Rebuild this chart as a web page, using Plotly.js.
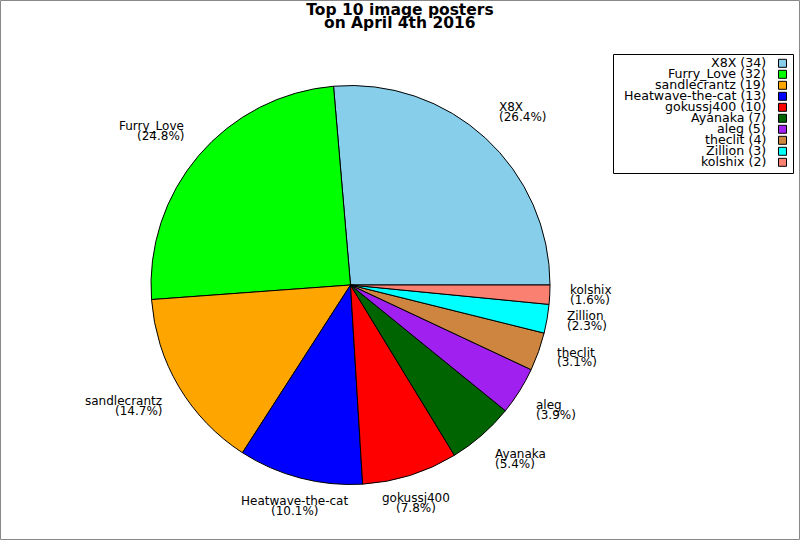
<!DOCTYPE html>
<html>
<head>
<meta charset="utf-8">
<script src="https://cdn.plot.ly/plotly-3.0.1.min.js"></script>
<style>html,body{margin:0;padding:0;background:#fff;}#chart{width:800px;height:540px;}</style>
</head>
<body>
<div id="chart"></div>
<script>
// ---- data ----
var names = ["X8X", "Furry_Love", "sandlecrantz", "Heatwave-the-cat", "gokussj400", "Ayanaka", "aleg", "theclit", "Zillion", "kolshix"];
var counts = [34, 32, 19, 13, 10, 7, 5, 4, 3, 2];
var sliceColors = ["#87CEEB", "#00FF00", "#FFA500", "#0000FF", "#FF0000", "#006400", "#A020F0", "#CD853F", "#00FFFF", "#FA8072"];
var titleLines = ["Top 10 image posters", "on April 4th 2016"];

// ---- layout geometry (pixels) ----
var W = 800, H = 540;
var CX = 350.5, CY = 285, R = 199.5;
var FONT = "DejaVu Sans";
function px(x) { return x / W; }
function py(y) { return 1 - y / H; }

var total = counts.reduce(function (a, b) { return a + b; }, 0);

var annotations = [];
var shapes = [];

// slice labels, two lines each, from data
var cum = 0;
for (var i = 0; i < names.length; i++) {
  var frac = counts[i] / total;
  var mid = (cum + frac / 2) * 2 * Math.PI;
  cum += frac;
  var c = Math.cos(mid), s = Math.sin(mid);
  var Px = CX + 1.1 * R * c, Py = CY - 1.1 * R * s;
  var nb, pb;
  if (s > 0.45) { nb = Py - 12; pb = Py - 2.5; }
  else if (s < -0.45) { nb = Py + 8; pb = Py + 17.7; }
  else { nb = Py - 1.7; pb = Py + 8; }
  var xa = c > 0.5 ? "left" : (c < -0.5 ? "right" : "center");
  var pct = "(" + (frac * 100).toFixed(1) + "%)";
  [[names[i], nb], [pct, pb]].forEach(function (ln) {
    annotations.push({
      text: ln[0], xref: "paper", yref: "paper", x: px(Px), y: py(ln[1] - 4.15),
      xanchor: xa, yanchor: "middle", showarrow: false, borderpad: 0, borderwidth: 0,
      font: { family: FONT, size: 12, color: "#000" }
    });
  });
}

// second title line
annotations.push({
  text: "<b>" + titleLines[1] + "</b>", xref: "paper", yref: "paper", x: 0.5, y: py(28.4 - 5.4),
  xanchor: "center", yanchor: "middle", showarrow: false, borderpad: 0, borderwidth: 0,
  font: { family: FONT, size: 15.5, color: "#000" }
});

// custom legend (text right-aligned, swatch on the right)
var LX0 = 613, LY0 = 54, LX1 = 793, LY1 = 173;
shapes.push({ type: "rect", xref: "paper", yref: "paper", x0: px(LX0 + 0.5), x1: px(LX1 + 0.5), y0: py(LY0 + 0.5), y1: py(LY1 + 0.5), line: { color: "#000", width: 1 }, fillcolor: "rgba(0,0,0,0)" });
for (var j = 0; j < names.length; j++) {
  var rowC = 63.3 + 11 * j;
  annotations.push({
    text: names[j] + " (" + counts[j] + ")", xref: "paper", yref: "paper", x: px(765.5), y: py(rowC + 3.4 - 4.3),
    xanchor: "right", yanchor: "middle", showarrow: false, borderpad: 0, borderwidth: 0,
    font: { family: FONT, size: 12.6, color: "#000" }
  });
  shapes.push({ type: "rect", xref: "paper", yref: "paper", x0: px(778.5), x1: px(786.5), y0: py(rowC - 4), y1: py(rowC + 4), line: { color: "#000", width: 1 }, fillcolor: sliceColors[j] });
}

// outer frame
shapes.push({ type: "rect", xref: "paper", yref: "paper", x0: px(0.5), x1: px(799.5), y0: py(0.5), y1: py(539.5), line: { color: "#888", width: 1 }, fillcolor: "rgba(0,0,0,0)" });

// Plotly puts the END of the first slice at `rotation` when counterclockwise,
// so offset by the first slice's angle to start it at 3 o'clock.
var startRotation = 90 - 360 * counts[0] / total;

var trace = {
  type: "pie",
  labels: names,
  values: counts,
  sort: false,
  direction: "counterclockwise",
  rotation: startRotation,
  textinfo: "none",
  hoverinfo: "none",
  showlegend: false,
  marker: { colors: sliceColors, line: { color: "#000", width: 1 } },
  domain: { x: [px(CX - R), px(CX + R)], y: [py(CY + R), py(CY - R)] }
};

var layout = {
  width: W, height: H,
  margin: { l: 0, r: 0, t: 0, b: 0, pad: 0 },
  paper_bgcolor: "#fff",
  showlegend: false,
  font: { family: FONT, color: "#000" },
  title: { text: "<b>" + titleLines[0] + "</b>", x: 0.5, xanchor: "center", xref: "paper", yref: "container", y: py(15.3 - 5.4), yanchor: "middle", font: { family: FONT, size: 15.5, color: "#000" } },
  annotations: annotations,
  shapes: shapes
};

Plotly.newPlot("chart", [trace], layout, { displayModeBar: false, staticPlot: true });
</script>
</body>
</html>
